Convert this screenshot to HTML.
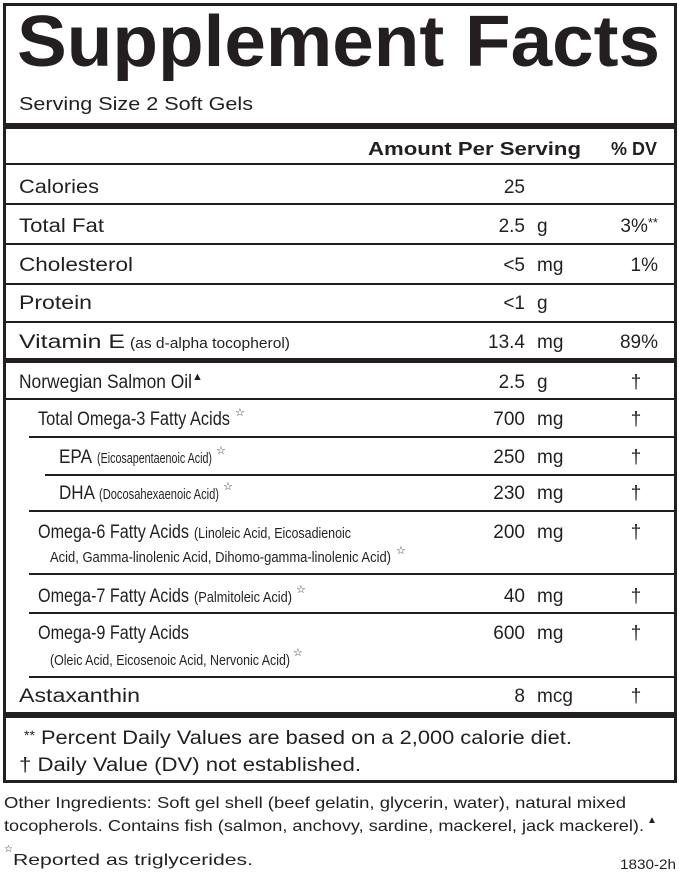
<!DOCTYPE html>
<html><head><style>body{margin:0;background:#fff}svg{display:block}text{font-family:"Liberation Sans",sans-serif;fill:#231f20}</style></head><body>
<svg width="679" height="875" viewBox="0 0 679 875">
<rect x="4.5" y="4.5" width="671" height="777" fill="none" stroke="#231f20" stroke-width="3"/>
<text x="17" y="66" font-size="72" font-weight="bold" textLength="643" lengthAdjust="spacingAndGlyphs">Supplement Facts</text>
<text x="19" y="110" font-size="18" textLength="234" lengthAdjust="spacingAndGlyphs">Serving Size 2 Soft Gels</text>
<rect x="4" y="123" width="672" height="6" fill="#231f20"/>
<text x="368" y="155" font-size="18" font-weight="bold" textLength="213" lengthAdjust="spacingAndGlyphs">Amount Per Serving</text>
<text x="611" y="155" font-size="18" font-weight="bold" textLength="46" lengthAdjust="spacingAndGlyphs">% DV</text>
<g fill="#231f20">
<rect x="4" y="163" width="672" height="2"/>
<rect x="4" y="203" width="672" height="2"/>
<rect x="4" y="243" width="672" height="2"/>
<rect x="4" y="283" width="672" height="2"/>
<rect x="4" y="321" width="672" height="2"/>
<rect x="4" y="358" width="672" height="5"/>
<rect x="4" y="398" width="672" height="2"/>
<rect x="29" y="436" width="647" height="2"/>
<rect x="45" y="474" width="631" height="2"/>
<rect x="29" y="510" width="647" height="2"/>
<rect x="29" y="573" width="647" height="2"/>
<rect x="29" y="612" width="647" height="2"/>
<rect x="29" y="676" width="647" height="2"/>
<rect x="4" y="712" width="672" height="6"/>
</g>
<g font-size="19">
<text x="19" y="193" textLength="80" lengthAdjust="spacingAndGlyphs">Calories</text>
<text x="525" y="193" text-anchor="end">25</text>
<text x="19" y="232" textLength="85" lengthAdjust="spacingAndGlyphs">Total Fat</text>
<text x="525" y="232" text-anchor="end">2.5</text><text x="537" y="232">g</text>
<text x="658" y="232" text-anchor="end">3%<tspan font-size="13" dy="-5">**</tspan></text>
<text x="19" y="271" textLength="114" lengthAdjust="spacingAndGlyphs">Cholesterol</text>
<text x="525" y="271" text-anchor="end">&lt;5</text><text x="537" y="271">mg</text>
<text x="658" y="271" text-anchor="end">1%</text>
<text x="19" y="309" textLength="73" lengthAdjust="spacingAndGlyphs">Protein</text>
<text x="525" y="309" text-anchor="end">&lt;1</text><text x="537" y="309">g</text>
<text x="19" y="348" textLength="106" lengthAdjust="spacingAndGlyphs">Vitamin E</text>
<text x="130" y="348" font-size="15" textLength="160" lengthAdjust="spacingAndGlyphs">(as d-alpha tocopherol)</text>
<text x="525" y="348" text-anchor="end">13.4</text><text x="537" y="348">mg</text>
<text x="658" y="348" text-anchor="end">89%</text>
<text x="19" y="388" textLength="173" lengthAdjust="spacingAndGlyphs">Norwegian Salmon Oil</text><text x="192" y="380" font-size="11">▲</text>
<text x="525" y="388" text-anchor="end">2.5</text><text x="537" y="388">g</text>
<text x="636" y="388" text-anchor="middle">†</text>
<text x="38" y="425" textLength="192" lengthAdjust="spacingAndGlyphs">Total Omega-3 Fatty Acids</text><text x="235" y="416" font-size="11" fill="#777">☆</text>
<text x="525" y="425" text-anchor="end">700</text><text x="537" y="425">mg</text><text x="636" y="425" text-anchor="middle">†</text>
<text x="59" y="463" textLength="33" lengthAdjust="spacingAndGlyphs">EPA</text>
<text x="97" y="463" font-size="15" textLength="115" lengthAdjust="spacingAndGlyphs">(Eicosapentaenoic Acid)</text><text x="216" y="454" font-size="11" fill="#777">☆</text>
<text x="525" y="463" text-anchor="end">250</text><text x="537" y="463">mg</text><text x="636" y="463" text-anchor="middle">†</text>
<text x="59" y="499" textLength="36" lengthAdjust="spacingAndGlyphs">DHA</text>
<text x="99" y="499" font-size="15" textLength="120" lengthAdjust="spacingAndGlyphs">(Docosahexaenoic Acid)</text><text x="223" y="490" font-size="11" fill="#777">☆</text>
<text x="525" y="499" text-anchor="end">230</text><text x="537" y="499">mg</text><text x="636" y="499" text-anchor="middle">†</text>
<text x="38" y="538" textLength="151" lengthAdjust="spacingAndGlyphs">Omega-6 Fatty Acids</text>
<text x="194" y="538" font-size="15" textLength="157" lengthAdjust="spacingAndGlyphs">(Linoleic Acid, Eicosadienoic</text>
<text x="50" y="562" font-size="15" textLength="341" lengthAdjust="spacingAndGlyphs">Acid, Gamma-linolenic Acid, Dihomo-gamma-linolenic Acid)</text><text x="396" y="554" font-size="11" fill="#777">☆</text>
<text x="525" y="538" text-anchor="end">200</text><text x="537" y="538">mg</text><text x="636" y="538" text-anchor="middle">†</text>
<text x="38" y="602" textLength="151" lengthAdjust="spacingAndGlyphs">Omega-7 Fatty Acids</text>
<text x="194" y="602" font-size="15" textLength="98" lengthAdjust="spacingAndGlyphs">(Palmitoleic Acid)</text><text x="296" y="593" font-size="11" fill="#777">☆</text>
<text x="525" y="602" text-anchor="end">40</text><text x="537" y="602">mg</text><text x="636" y="602" text-anchor="middle">†</text>
<text x="38" y="639" textLength="151" lengthAdjust="spacingAndGlyphs">Omega-9 Fatty Acids</text>
<text x="50" y="665" font-size="15" textLength="240" lengthAdjust="spacingAndGlyphs">(Oleic Acid, Eicosenoic Acid, Nervonic Acid)</text><text x="293" y="656" font-size="11" fill="#777">☆</text>
<text x="525" y="639" text-anchor="end">600</text><text x="537" y="639">mg</text><text x="636" y="639" text-anchor="middle">†</text>
<text x="19" y="702" textLength="121" lengthAdjust="spacingAndGlyphs">Astaxanthin</text>
<text x="525" y="702" text-anchor="end">8</text><text x="537" y="702">mcg</text><text x="636" y="702" text-anchor="middle">†</text>
<text x="24" y="744"><tspan font-size="14" dy="-4">**</tspan><tspan dy="4" textLength="537" lengthAdjust="spacingAndGlyphs"> Percent Daily Values are based on a 2,000 calorie diet.</tspan></text>
<text x="19" y="771" textLength="342" lengthAdjust="spacingAndGlyphs">† Daily Value (DV) not established.</text>
</g>
<g font-size="16">
<text x="4" y="808" textLength="622" lengthAdjust="spacingAndGlyphs">Other Ingredients: Soft gel shell (beef gelatin, glycerin, water), natural mixed</text>
<text x="4" y="831" textLength="640" lengthAdjust="spacingAndGlyphs">tocopherols. Contains fish (salmon, anchovy, sardine, mackerel, jack mackerel).</text><text x="647" y="823" font-size="10">▲</text>
<text x="4" y="852" font-size="10" fill="#777">☆</text>
<text x="13" y="865" textLength="240" lengthAdjust="spacingAndGlyphs">Reported as triglycerides.</text>
<text x="676" y="869" font-size="14" text-anchor="end" textLength="56" lengthAdjust="spacingAndGlyphs">1830-2h</text>
</g>
</svg>
</body></html>
